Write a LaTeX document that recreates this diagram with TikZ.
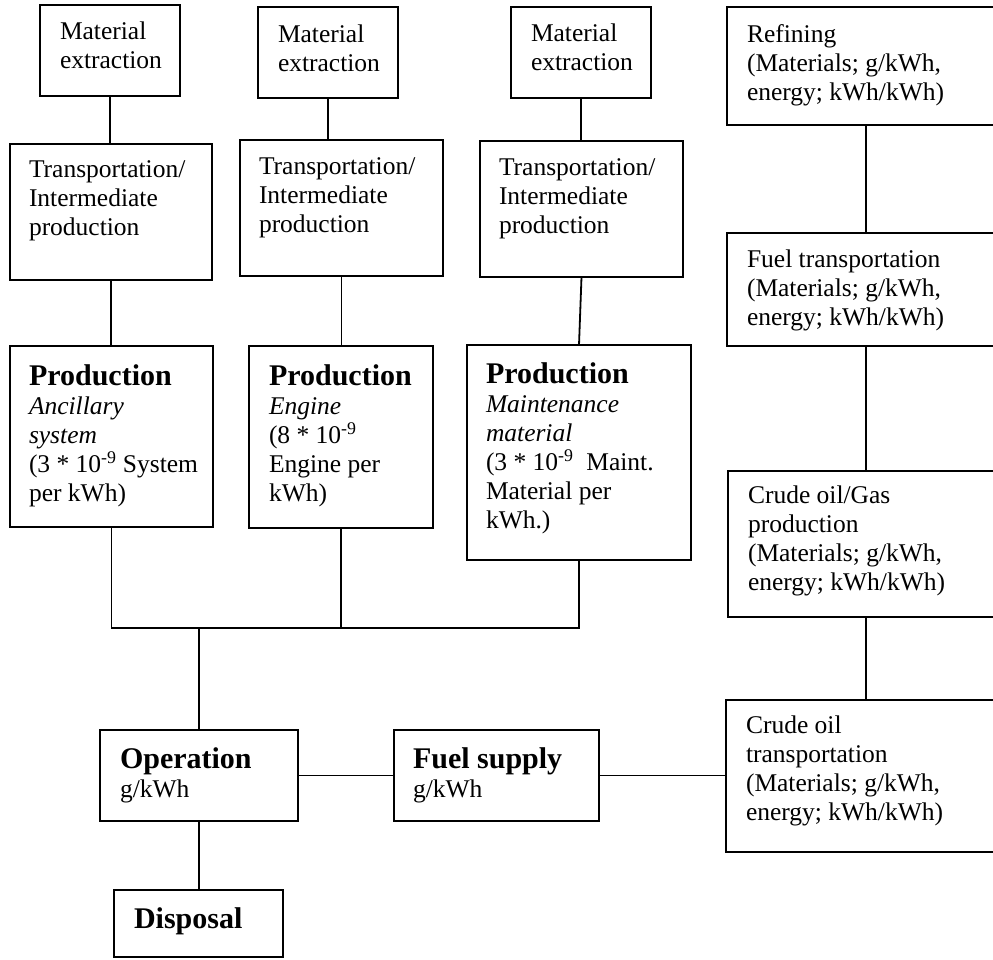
\documentclass[tikz,border=0pt]{standalone}
\usepackage{fontspec}
\setmainfont{Liberation Serif}
\tikzset{
  box/.style={draw, line width=1.8pt, inner sep=0pt, outer sep=0pt, anchor=north west},
  txt/.style={inner sep=0pt, outer sep=0pt, anchor=base west, font=\fontsize{25.5}{29}\selectfont},
  conn/.style={line width=1.8pt}
}
\newcommand{\mybox}[5]{\node[box, minimum width=#4pt-#2pt, minimum height=#5pt-#3pt] (#1) at (#2,#3) {};}
\newcommand{\bigb}[1]{{\fontsize{30}{29}\selectfont\bfseries #1}}
\begin{document}
\begin{tikzpicture}[x=1pt,y=-1pt]
\useasboundingbox (0,0) rectangle (993,959);
\clip (0,0) rectangle (993,959);
\fill[white] (0,0) rectangle (993,959);
% boxes
\mybox{me1}{40}{5}{180}{96}
\mybox{me2}{258}{7}{398}{98}
\mybox{me3}{511}{7}{651}{98}
\mybox{t1}{10}{144}{212}{280}
\mybox{t2}{240}{140}{443}{276}
\mybox{t3}{480}{141}{683}{277}
\mybox{p1}{10}{346}{213}{527}
\mybox{p2}{249}{346}{433}{528}
\mybox{p3}{467}{345}{691}{560}
\mybox{ref}{727}{7}{1010}{125}
\mybox{ft}{727}{233}{1010}{346}
\mybox{cog}{728}{471}{1010}{617}
\mybox{cot}{726}{700}{1010}{852}
\mybox{op}{100}{730}{298}{821}
\mybox{fs}{394}{730}{599}{821}
\mybox{dis}{114}{890}{283}{957}
% texts
\node[txt] (me1t) at (60,39) {\begin{tabular}[t]{@{}l@{}}Material\\extraction\end{tabular}};
\node[txt] (me2t) at (278,42) {\begin{tabular}[t]{@{}l@{}}Material\\extraction\end{tabular}};
\node[txt] (me3t) at (531,41) {\begin{tabular}[t]{@{}l@{}}Material\\extraction\end{tabular}};
\node[txt] (t1t) at (29,177) {\begin{tabular}[t]{@{}l@{}}Transportation/\\Intermediate\\production\end{tabular}};
\node[txt] (t2t) at (259,174) {\begin{tabular}[t]{@{}l@{}}Transportation/\\Intermediate\\production\end{tabular}};
\node[txt] (t3t) at (499,175) {\begin{tabular}[t]{@{}l@{}}Transportation/\\Intermediate\\production\end{tabular}};
\node[txt] (reft) at (747,42) {\begin{tabular}[t]{@{}l@{}}Refining\\(Materials; g/kWh,\\energy; kWh/kWh)\end{tabular}};
\node[txt] (ftt) at (747,267) {\begin{tabular}[t]{@{}l@{}}Fuel transportation\\(Materials; g/kWh,\\energy; kWh/kWh)\end{tabular}};
\node[txt] (cogt) at (748,503) {\begin{tabular}[t]{@{}l@{}}Crude oil/Gas\\production\\(Materials; g/kWh,\\energy; kWh/kWh)\end{tabular}};
\node[txt] (cott) at (746,733) {\begin{tabular}[t]{@{}l@{}}Crude oil\\transportation\\(Materials; g/kWh,\\energy; kWh/kWh)\end{tabular}};
\node[txt] (p1t) at (29,385) {\begin{tabular}[t]{@{}l@{}}\bigb{Production}\\\textit{Ancillary}\\\textit{system}\\(3 * 10\textsuperscript{-9} System\\per kWh)\end{tabular}};
\node[txt] (p2t) at (269,385) {\begin{tabular}[t]{@{}l@{}}\bigb{Production}\\\textit{Engine}\\(8 * 10\textsuperscript{-9}\\Engine per\\kWh)\end{tabular}};
\node[txt] (p3t) at (486,383) {\begin{tabular}[t]{@{}l@{}}\bigb{Production}\\\textit{Maintenance}\\\textit{material}\\(3 * 10\textsuperscript{-9}\ \ Maint.\\Material per\\kWh.)\end{tabular}};
\node[txt] (opt) at (120,768) {\begin{tabular}[t]{@{}l@{}}\bigb{Operation}\\g/kWh\end{tabular}};
\node[txt] (fst) at (413,768) {\begin{tabular}[t]{@{}l@{}}\bigb{Fuel supply}\\g/kWh\end{tabular}};
\node[txt] (dist) at (134,928) {\bigb{Disposal}};
% connectors
\coordinate (bus) at (199,628);
\coordinate (rx) at (866,0);
\draw[conn] (me1.south) -- (me1.south |- t1.north);
\draw[conn] (me2.south) -- (me2.south |- t2.north);
\draw[conn] (me3.south) -- (me3.south |- t3.north);
\draw[conn] (t1.south) -- (t1.south |- p1.north);
\draw[conn] (t2.south) -- (t2.south |- p2.north);
\draw[conn] (t3.south) -- (p3.north);
\draw[conn] (p1.south) -- (p1.south |- bus) -- (p3.south |- bus) -- (p3.south);
\draw[conn] (p2.south) -- (p2.south |- bus);
\draw[conn] (bus) -- (op.north);
\draw[conn] (op.south) -- (op.south |- dis.north);
\draw[conn] (op.east) -- (fs.west);
\draw[conn] (fs.east) -- (fs.east -| cot.west);
\draw[conn] (ref.south -| rx) -- (ft.north -| rx);
\draw[conn] (ft.south -| rx) -- (cog.north -| rx);
\draw[conn] (cog.south -| rx) -- (cot.north -| rx);
\end{tikzpicture}
\end{document}
